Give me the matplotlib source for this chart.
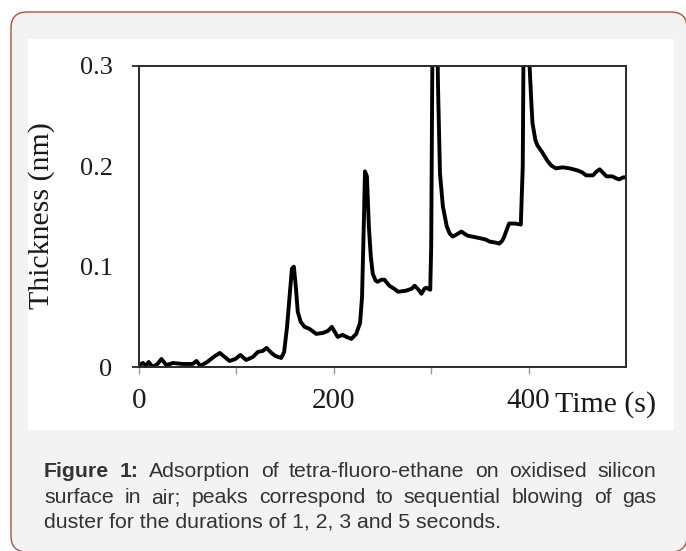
import matplotlib
matplotlib.use("Agg")
import matplotlib.pyplot as plt
from matplotlib.patches import FancyBboxPatch, Rectangle

# ---------------- data ----------------
time_s = [0, 4, 7, 10, 14, 19, 23, 28, 35, 45, 55, 59, 63, 70, 78, 83, 88, 93, 99,
          104, 110, 117, 122, 127, 131, 136, 140, 146, 149, 152, 155, 157, 159, 161,
          163, 166, 170, 175, 182, 189, 194, 198, 201, 204, 209, 213, 218, 223, 227,
          229, 231, 232, 234, 236, 238, 240, 243, 245, 249, 252, 257, 262, 266, 274,
          280, 283, 287, 290, 293, 295, 299, 300, 301, 302, 304, 306, 307, 309, 312,
          316, 319, 322, 326, 331, 337, 342, 347, 352, 356, 360, 366, 370, 373, 375,
          378, 380, 386, 392, 394, 395, 397, 400, 401, 403, 404, 407, 409, 414, 419,
          423, 428, 435, 442, 450, 455, 459, 466, 470, 473, 477, 480, 486, 490, 493,
          497, 500]
thickness_nm = [0.002, 0.004, 0.001, 0.005, 0.000, 0.003, 0.008, 0.002, 0.004, 0.003,
                0.003, 0.006, 0.001, 0.005, 0.011, 0.014, 0.010, 0.006, 0.008, 0.012,
                0.007, 0.010, 0.015, 0.016, 0.019, 0.014, 0.011, 0.009, 0.015, 0.040,
                0.075, 0.098, 0.100, 0.080, 0.055, 0.045, 0.040, 0.038, 0.033, 0.034,
                0.036, 0.040, 0.035, 0.030, 0.032, 0.030, 0.028, 0.033, 0.044, 0.070,
                0.150, 0.195, 0.190, 0.140, 0.110, 0.093, 0.086, 0.085, 0.087, 0.087,
                0.081, 0.078, 0.075, 0.076, 0.078, 0.081, 0.077, 0.073, 0.078, 0.079,
                0.077, 0.120, 0.280, 0.400, 0.450, 0.350, 0.280, 0.193, 0.160, 0.140,
                0.133, 0.130, 0.132, 0.135, 0.131, 0.130, 0.129, 0.128, 0.127, 0.125,
                0.124, 0.123, 0.126, 0.130, 0.138, 0.143, 0.143, 0.142, 0.200, 0.350,
                0.450, 0.380, 0.300, 0.260, 0.243, 0.226, 0.221, 0.214, 0.206, 0.201,
                0.198, 0.199, 0.198, 0.196, 0.194, 0.191, 0.191, 0.195, 0.197, 0.193,
                0.190, 0.190, 0.188, 0.187, 0.189, 0.189]

x_major = [0, 200, 400]
x_major_labels = ["0", "200", "400"]
x_minor = [100, 300]
y_major = [0, 0.3]
y_major_labels = ["0", "0.3"]
y_minor = [0.1, 0.2]
y_minor_labels = ["0.1", "0.2"]
x_label = "Time (s)"
y_label = "Thickness (nm)"

caption_bold = ["Figure", "1:"]
caption_line1 = "Adsorption of tetra-fluoro-ethane on oxidised silicon"
caption_line2 = "surface in air; peaks correspond to sequential blowing of gas"
caption_line3 = "duster for the durations of 1, 2, 3 and 5 seconds."

# ---------------- figure ----------------
W, H = 686, 551
fig = plt.figure(figsize=(W / 100, H / 100), dpi=100)
fig.patch.set_facecolor("white")

bg = fig.add_axes([0, 0, 1, 1])
bg.set_xlim(0, W)
bg.set_ylim(H, 0)
bg.axis("off")

frame = FancyBboxPatch((11, 12), 676, 540, boxstyle="round,pad=0,rounding_size=16",
                       facecolor="#f3f3f3", edgecolor="#a8573f", linewidth=1.0)
bg.add_patch(frame)
bg.add_patch(Rectangle((28, 39), 646, 391, facecolor="white", edgecolor="none"))

SERIF = ["Liberation Serif", "DejaVu Serif"]
SANS = ["Liberation Sans", "DejaVu Sans"]
TXT = "#1a1a1a"

ax = fig.add_axes([139 / W, 1 - 367 / H, (626 - 139) / W, (367 - 66) / H])
ax.set_facecolor("none")
ax.plot(time_s, thickness_nm, color="black", linewidth=2.8, solid_joinstyle="round",
        clip_on=True)
ax.set_xlim(0, 500)
ax.set_ylim(0, 0.3)

for s in ax.spines.values():
    s.set_color("#2a2a2a")
    s.set_linewidth(1.4)

ax.set_xticks(x_major, x_major_labels)
ax.set_xticks(x_minor, minor=True)
ax.tick_params(axis="x", which="both", direction="out", length=5, width=1,
               color="#9a9a9a", pad=10, labelsize=21, labelcolor=TXT)
ax.set_yticks(y_major, y_major_labels)
ax.set_yticks(y_minor, y_minor_labels, minor=True)
ax.tick_params(axis="y", which="major", direction="out", length=5, width=1.3,
               color="#2a2a2a", pad=14, labelsize=19, labelcolor=TXT)
ax.tick_params(axis="y", which="minor", length=0, pad=19, labelsize=19,
               labelcolor=TXT)
for lab in ax.get_xticklabels() + ax.get_yticklabels() + ax.get_yticklabels(minor=True):
    lab.set_fontfamily(SERIF)

bg.text(555, 412, x_label, fontsize=21.5, family=SERIF, color=TXT,
        ha="left", va="baseline")
bg.text(42, 216, y_label, fontsize=21.5, family=SERIF, color=TXT,
        rotation=90, ha="center", va="center")

# ---------------- caption (justified) ----------------
CAP_FS = 15.3
CAP_COLOR = "#333333"
X0, X1 = 44, 656
renderer = fig.canvas.get_renderer()


def justify(words, bolds, y):
    texts = []
    for w, b in zip(words, bolds):
        t = bg.text(0, y, w, fontsize=CAP_FS, family=SANS, color=CAP_COLOR,
                    fontweight="bold" if b else "normal", ha="left", va="baseline")
        texts.append(t)
    widths = [t.get_window_extent(renderer).width for t in texts]
    gap = (X1 - X0 - sum(widths)) / (len(texts) - 1)
    x = X0
    for t, w in zip(texts, widths):
        t.set_x(x)
        x += w + gap


words1 = caption_bold + caption_line1.split()
justify(words1, [True] * len(caption_bold) + [False] * len(caption_line1.split()), 477)
words2 = caption_line2.split()
justify(words2, [False] * len(words2), 503)
bg.text(X0, 528, caption_line3, fontsize=CAP_FS, family=SANS, color=CAP_COLOR,
        ha="left", va="baseline")

fig.savefig("out.png", dpi=100)
